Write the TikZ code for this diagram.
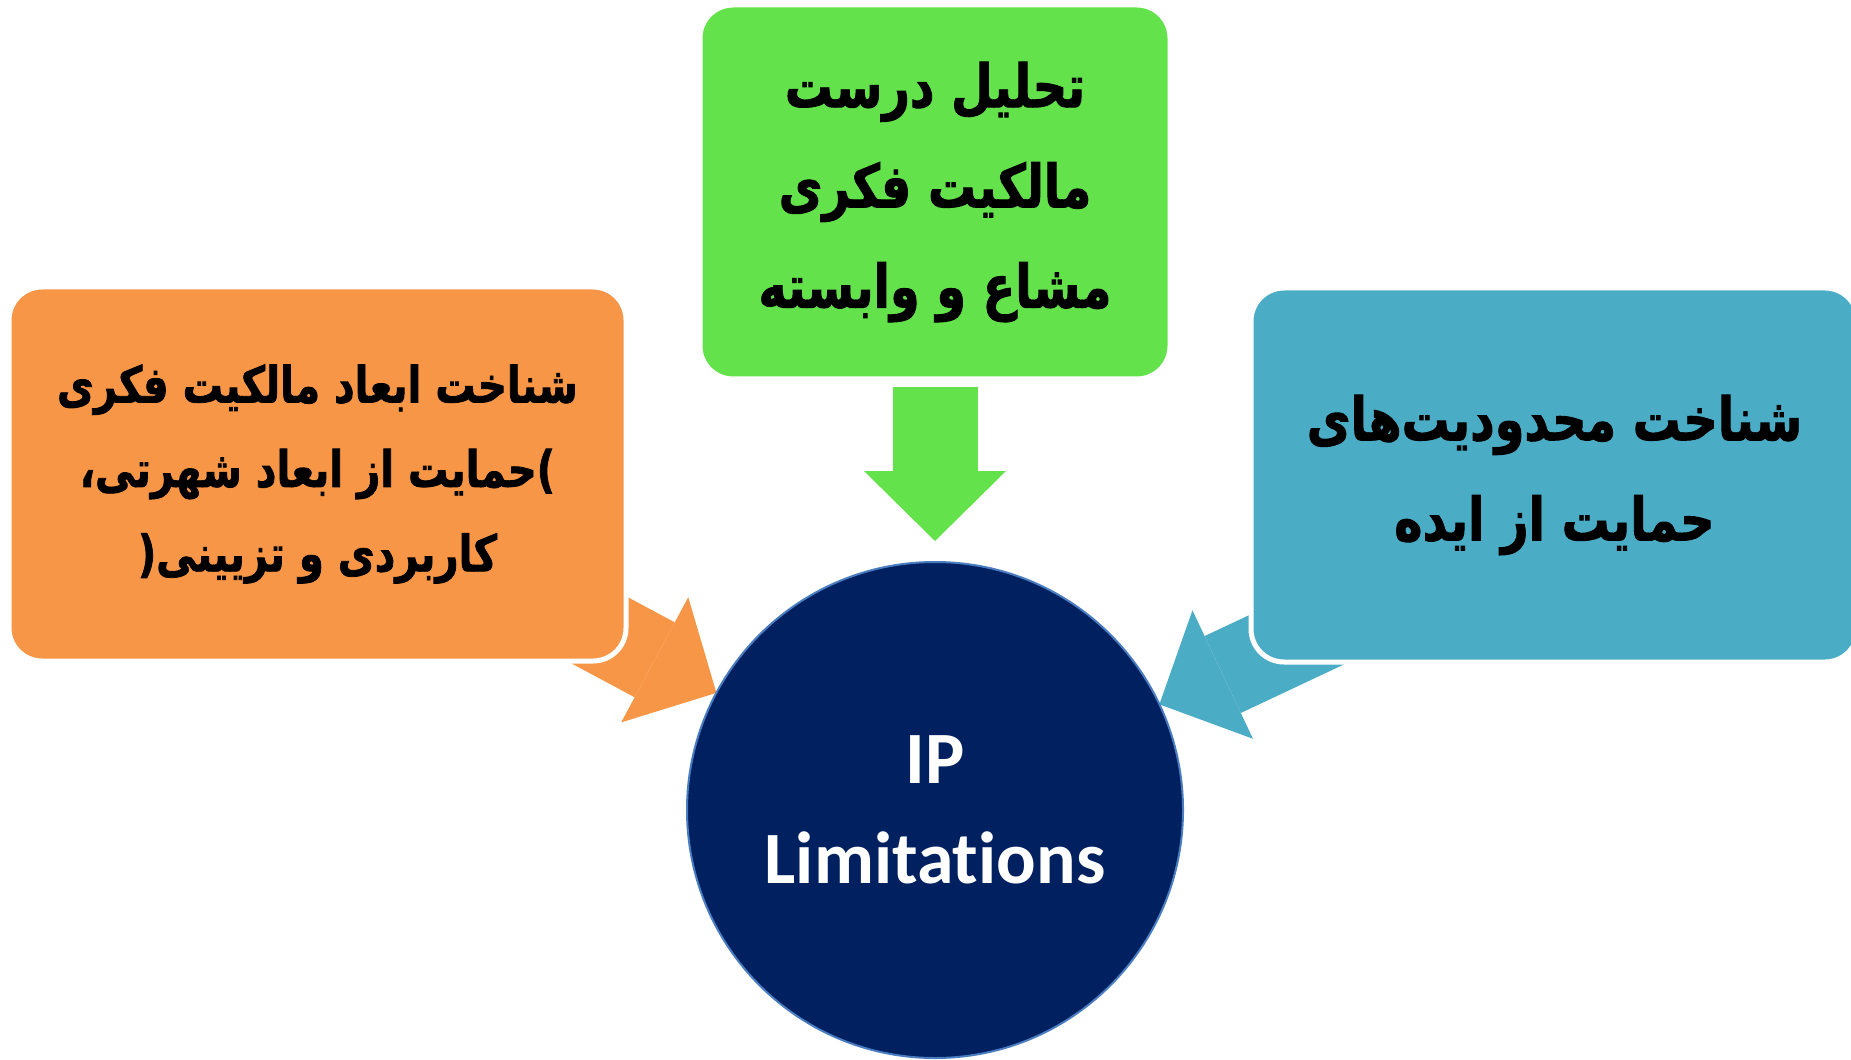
\documentclass[tikz,border=0pt]{standalone}
\usepackage{fontspec}
\usetikzlibrary{arrows.meta,backgrounds}
\newfontfamily\fafont[Script=Arabic, FakeStretch=0.8, BoldFeatures={FakeBold=1.5}]{DejaVu Sans}
\newfontfamily\enfont[Ligatures=NoCommon]{Carlito}
\TeXXeTstate=1
\newcommand{\faline}[1]{\beginR #1\endR}
\definecolor{ipnavy}{HTML}{002060}
\definecolor{iporange}{HTML}{F79646}
\definecolor{ipgreen}{HTML}{63E24B}
\definecolor{ipblue}{HTML}{4BACC6}
\definecolor{iprim}{HTML}{4A7CC0}

\begin{document}
\begin{tikzpicture}[
    % Styles
    topic/.style={draw=white, line width=0.05cm, rounded corners=0.33cm, align=center, text=black, minimum height=3.74cm},
    core/.style={circle, fill=ipnavy, draw=iprim, line width=0.02cm, outer sep=0pt, minimum size=4.96cm, align=center, text=white, font=\enfont\bfseries\fontsize{21}{28.5}\selectfont},
    blockarrow/.style={line width=0.85cm, -{Triangle[length=0.70cm, width=1.42cm, line width=0pt]}},
]
\clip (0,0) rectangle (18.51,-10.60);

% Central circle
\node[core] (core) at (9.35,-8.10) {IP\\Limitations};

% Three topics around it
\node[topic, fill=ipgreen, minimum width=4.70cm, font=\fafont\bfseries\fontsize{17}{28.5}\selectfont] (analysis) at (9.35,-1.92)
    {\faline{تحلیل درست}\\\faline{مالکیت فکری}\\\faline{مشاع و وابسته}};

\node[topic, fill=iporange, minimum width=6.17cm, font=\fafont\bfseries\fontsize{14.3}{24}\selectfont] (dims) at (3.175,-4.74)
    {\faline{شناخت ابعاد مالکیت فکری}\\\faline{)حمایت از ابعاد شهرتی،}\\\faline{کاربردی و تزیینی(}};

\node[topic, fill=ipblue, minimum width=6.07cm, font=\fafont\bfseries\fontsize{17}{28.5}\selectfont] (limits) at (15.545,-4.75)
    {\faline{شناخت محدودیت‌های}\\\faline{حمایت از ایده}};

% Arrows into the circle
\coordinate (dimsTail) at (5.02,-5.78);
\coordinate (limitsTail) at (13.81,-6.00);
\begin{pgfonlayer}{background}
\draw[blockarrow, iporange] (dimsTail) -- (core);
\draw[blockarrow, ipblue] (limitsTail) -- (core);
\draw[blockarrow, ipgreen, shorten <=0.06cm, shorten >=0.21cm] (analysis) -- (core);
\end{pgfonlayer}

\end{tikzpicture}
\end{document}
